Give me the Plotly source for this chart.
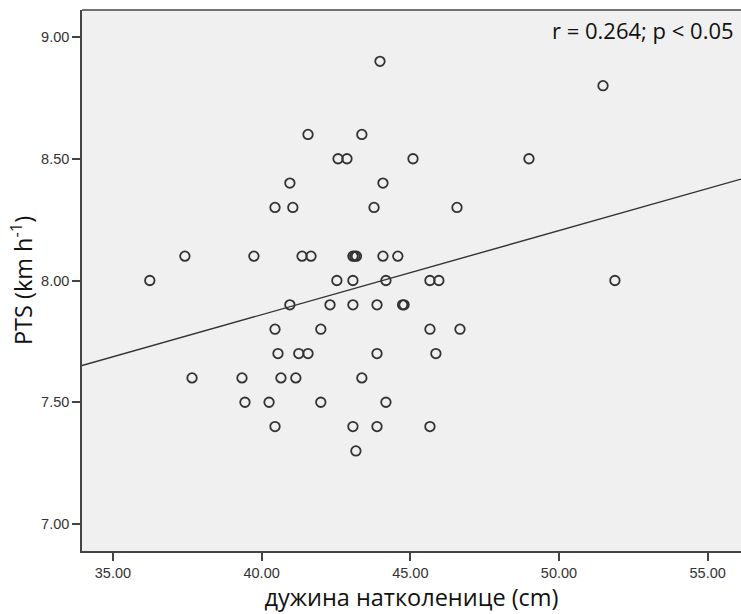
import numpy as np
import plotly.graph_objects as go

# Thigh length (cm) and PTS (km/h) for each subject
thigh_cm = [
    43.98, 51.48,
    41.56, 43.37,
    42.57, 42.87, 45.09, 48.99,
    40.95, 44.08,
    40.45, 41.05, 43.78, 46.57,
    37.42, 39.74, 41.36, 41.66, 43.07, 43.13, 43.19, 44.08, 44.58,
    36.24, 42.53, 43.07, 44.18, 45.66, 45.96, 51.88,
    40.95, 42.30, 43.07, 43.88, 44.74, 44.79,
    40.45, 41.99, 45.66, 46.67,
    40.55, 41.25, 41.56, 43.88, 45.86,
    37.66, 39.34, 40.65, 41.15, 43.37,
    39.44, 40.25, 41.99, 44.18,
    40.45, 43.07, 43.88, 45.66,
    43.17,
]
pts_kmh = [
    8.9, 8.8,
    8.6, 8.6,
    8.5, 8.5, 8.5, 8.5,
    8.4, 8.4,
    8.3, 8.3, 8.3, 8.3,
    8.1, 8.1, 8.1, 8.1, 8.1, 8.1, 8.1, 8.1, 8.1,
    8.0, 8.0, 8.0, 8.0, 8.0, 8.0, 8.0,
    7.9, 7.9, 7.9, 7.9, 7.9, 7.9,
    7.8, 7.8, 7.8, 7.8,
    7.7, 7.7, 7.7, 7.7, 7.7,
    7.6, 7.6, 7.6, 7.6, 7.6,
    7.5, 7.5, 7.5, 7.5,
    7.4, 7.4, 7.4, 7.4,
    7.3,
]

x_ticks = [35, 40, 45, 50, 55]
y_ticks = [7.0, 7.5, 8.0, 8.5, 9.0]
x_range = [33.96, 56.12]
y_range = [6.889, 9.111]
stats_label = "r = 0.264; p < 0.05"

# least-squares fit line across the full x range
slope, intercept = np.polyfit(thigh_cm, pts_kmh, 1)
fit_x = np.array(x_range)
fit_y = intercept + slope * fit_x

axis_color = "#444444"
text_color = "#333333"
sans = "Open Sans, Noto Sans, sans-serif"
tick_font = dict(family="Liberation Sans, Arial, sans-serif", size=14.5, color=text_color)

fig = go.Figure()
fig.add_trace(go.Scatter(
    x=fit_x, y=fit_y, mode="lines",
    line=dict(color="#333333", width=1.4),
    hoverinfo="skip", showlegend=False,
))
fig.add_trace(go.Scatter(
    x=thigh_cm, y=pts_kmh, mode="markers",
    marker=dict(symbol="circle-open", size=9.5, color="#333333",
                line=dict(width=1.8, color="#333333")),
    showlegend=False,
))

fig.add_annotation(
    text=stats_label, xref="paper", yref="paper", x=0.992, y=0.995,
    xanchor="right", yanchor="top", showarrow=False,
    font=dict(family=sans, size=22, color="#111111"),
)

# top border of the plot frame
fig.add_shape(type="line", xref="paper", yref="paper", x0=0, x1=1, y0=1, y1=1,
              line=dict(color=axis_color, width=1.5))

fig.update_layout(
    width=741, height=614,
    margin=dict(l=82, r=0, t=10, b=63),
    paper_bgcolor="white",
    plot_bgcolor="#f0f0f0",
    xaxis=dict(
        range=x_range, tickvals=x_ticks,
        ticktext=[f"{v:.2f}" for v in x_ticks],
        showgrid=False, zeroline=False,
        showline=True, linecolor=axis_color, linewidth=1.5,
        ticks="outside", ticklen=8, tickwidth=1.5, tickcolor=axis_color,
        tickfont=tick_font,
        title=dict(text="дужина натколенице (cm)",
                   font=dict(family=sans, size=23.5, color="#111111"), standoff=6),
    ),
    yaxis=dict(
        range=y_range, tickvals=y_ticks,
        ticktext=[f"{v:.2f}" for v in y_ticks],
        showgrid=False, zeroline=False,
        showline=True, linecolor=axis_color, linewidth=1.5,
        ticks="outside", ticklen=8, tickwidth=1.5, tickcolor=axis_color,
        tickfont=tick_font,
        title=dict(text="PTS (km h<sup>-1</sup>)",
                   font=dict(family=sans, size=23.5, color="#111111"), standoff=2),
    ),
)

fig.write_html("out.html")
